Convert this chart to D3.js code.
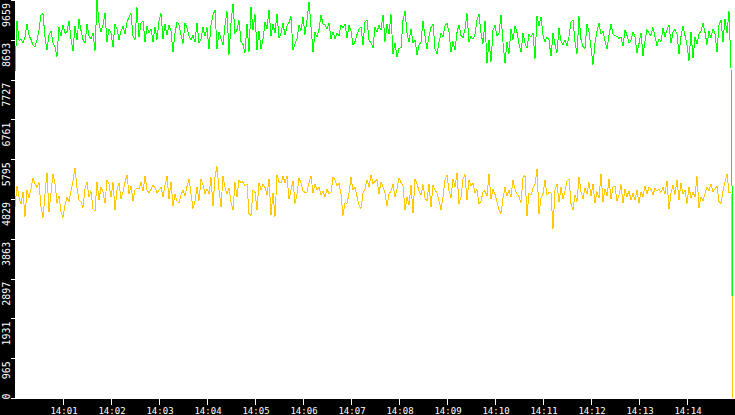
<!DOCTYPE html>
<html>
<head>
<meta charset="utf-8">
<script src="https://cdn.jsdelivr.net/npm/d3@7"></script>
<style>
    body { margin: 0; background: #fff; }
    svg { display: block; }
    text { font-family: "DejaVu Sans Mono", monospace; fill: #fff; }
</style>
</head>
<body>
<div id="chart"></div>
<script>
// one sample every 2.5 s, starting 14:00:00
var stepSec = 2.5;

var greenValues = [
    7920, 9150, 8680, 8700, 8620, 8760, 9080, 8800, 8700, 8560,
    8530, 8690, 8930, 9290, 9330, 8760, 8440, 8820, 8900, 8620,
    8520, 8290, 9010, 8780, 9060, 8850, 8890, 9150, 8720, 8420,
    9030, 8680, 9200, 8920, 8700, 8610, 9070, 8780, 8720, 8860,
    8430, 9659, 9100, 8880, 9060, 9350, 8630, 8960, 8870, 8520,
    9070, 8950, 8700, 8900, 9020, 8830, 9120, 9250, 9330, 8780,
    8700, 9480, 8760, 9100, 9150, 8650, 9020, 8860, 8960, 8640,
    9010, 8700, 9150, 9330, 8720, 9080, 8800, 9050, 8900, 8400,
    8850, 9130, 9060, 8820, 8600, 9090, 8990, 8780, 8700, 8800,

    8640, 9110, 8610, 8700, 9010, 8780, 8990, 8460, 9050, 9290,
    9420, 8470, 8880, 8720, 8560, 9050, 9380, 8330, 9100, 9570,
    8850, 8940, 9160, 8650, 8580, 8380, 9080, 8410, 9500, 8930,
    9310, 8450, 8900, 8480, 8700, 9120, 8960, 9420, 8780, 9080,
    8860, 9330, 8730, 8850, 9090, 8800, 9030, 9110, 9260, 8440,
    8600, 8720, 9050, 8920, 9250, 8820, 9160, 9620, 9010, 8400,
    8880, 8760, 8940, 9290, 9080, 9060, 8950, 9100, 8720, 8890,
    8720, 8850, 8790, 9050, 8980, 9070, 8740, 9040, 8900, 8560,
    8650, 8820, 8960, 9010, 8570, 9130, 9180, 8680, 8620, 8500,

    9000, 8880, 9050, 8930, 9300, 8650, 9080, 8840, 9310, 8350,
    8620, 8280, 8480, 8500, 9160, 9390, 8850, 8640, 8950, 8610,
    8690, 8330, 8570, 8640, 9150, 8780, 8470, 8790, 8990, 9080,
    8480, 8360, 8640, 8850, 8760, 9030, 9090, 8880, 8400, 8650,
    8450, 8870, 9060, 8800, 8740, 8960, 9330, 8640, 8780, 8710,
    8820, 9180, 9310, 8850, 8600, 9160, 8120, 8680, 8160, 8920,
    9050, 8780, 8860, 9300, 8630, 8120, 8650, 8360, 8960, 8700,
    9030, 8870, 8600, 8390, 8850, 8610, 8490, 8820, 8760, 8860,
    8240, 9280, 9030, 9250, 8810, 8640, 8770, 8680, 8290, 8850,

    8580, 8380, 8980, 8660, 8570, 8690, 8540, 8770, 9120, 9170,
    8640, 8350, 9260, 8700, 8530, 8480, 9080, 8880, 8500, 8090,
    8620, 8910, 9090, 8830, 8900, 8670, 8470, 8800, 9080, 8830,
    8790, 8780, 8730, 8760, 8540, 8940, 8800, 8610, 8680, 8890,
    8760, 8380, 8600, 8860, 8310, 8670, 8940, 8850, 8800, 8990,
    8770, 8550, 8720, 8650, 8980, 8760, 8940, 9060, 8610, 8880,
    8950, 8830, 8340, 8770, 9020, 8800, 8580, 8190, 8880, 8250,
    8750, 8600, 8830, 8910, 9090, 8870, 8580, 8900, 8740, 8960,
    8840, 8400, 9050, 9170, 8640, 9200, 8860, 9380, 8020, 2380
];

var yellowValues = [
    4640, 5150, 4880, 4700, 5000, 4400, 5050, 4860, 5080, 5330,
    5200, 5110, 5230, 4640, 4380, 4950, 5460, 4520, 4980, 5430,
    5190, 4740, 4900, 4520, 4380, 4690, 4880, 4760, 5020, 5260,
    5590, 5100, 4800, 4760, 4620, 5080, 5240, 4880, 5010, 4590,
    4540, 5240, 4800, 5120, 5000, 4730, 5280, 5190, 4870, 5230,
    4570, 5050, 5220, 4840, 5000, 5230, 5420, 4950, 5140, 4790,
    5040, 5100, 5070, 5230, 5020, 5380, 5050, 4980, 5060, 5170,
    5100, 4980, 5040, 5120, 4880, 5160, 5380, 4820, 5250, 4650,
    4950, 4780, 4740, 4920, 5050, 4900, 5130, 5320, 4960, 4600,

    4780, 5130, 4790, 5320, 5180, 4960, 5080, 4950, 5350, 4660,
    5370, 5620, 5060, 4640, 5380, 5120, 4950, 5100, 4760, 4560,
    5230, 4880, 5290, 5220, 5250, 5140, 5200, 4480, 4430, 5050,
    4990, 4560, 5220, 5060, 5190, 5110, 4930, 5320, 4440, 4980,
    4400, 5410, 5250, 5220, 5380, 5230, 5380, 4820, 5040, 5270,
    4720, 4950, 5340, 5220, 5020, 4990, 5000, 5220, 5390, 4980,
    5200, 5050, 5110, 4920, 5030, 4870, 5070, 4950, 5000, 5350,
    5300, 5150, 5210, 4950, 4430, 4740, 4720, 4960, 5360, 5050,
    5120, 4890, 4680, 4600, 4980, 5080, 5290, 5130, 5420, 5200,

    5250, 5300, 4960, 5250, 5120, 4970, 4650, 4960, 5020, 5190,
    4880, 5080, 5340, 5230, 5140, 4560, 4870, 4680, 5180, 4480,
    5310, 5200, 5020, 4920, 5180, 4850, 4780, 5190, 4640, 5160,
    5050, 4980, 4790, 4570, 4880, 5290, 5420, 5030, 4860, 5320,
    5130, 5460, 4720, 4870, 5320, 5420, 4800, 5280, 5150, 5210,
    4970, 5060, 4710, 4780, 5000, 5030, 4900, 5430, 4820, 5070,
    4940, 4760, 4570, 4480, 4850, 5110, 4900, 5040, 4880, 5290,
    5070, 4950, 4890, 4740, 5350, 5400, 4410, 4980, 4920, 5090,
    5180, 5560, 4470, 4850, 4960, 5300, 4920, 4990, 4980, 4110,

    5040, 5200, 4750, 5120, 4830, 5020, 5260, 5310, 4720, 4570,
    4920, 4770, 5370, 5010, 4840, 5100, 4950, 5230, 4900, 5200,
    4730, 5010, 4850, 5430, 4760, 5080, 4900, 5310, 4820, 5120,
    5140, 4780, 4930, 5180, 4740, 5060, 4890, 5030, 4800, 4970,
    4800, 5040, 4730, 5000, 4880, 5150, 4950, 5120, 5060, 4930,
    5090, 5020, 5070, 4990, 5110, 4960, 5270, 4580, 4980, 5160,
    4940, 5300, 4800, 5220, 4950, 5050, 4720, 5120, 4860, 5000,
    4880, 5380, 4620, 4880, 4780, 4960, 5120, 5030, 5190, 5000,
    5080, 5140, 4770, 4720, 5030, 5250, 5430, 4990, 4980, 0
];

var yTicks = [0, 965, 1931, 2897, 3863, 4829, 5795, 6761, 7727, 8693, 9659];
var xTickLabels = ["14:01", "14:02", "14:03", "14:04", "14:05", "14:06", "14:07",
    "14:08", "14:09", "14:10", "14:11", "14:12", "14:13", "14:14"];

function chart() {
    this.w = 735;
    this.h = 415;
    this.left = 15;
    this.bottom = 398;
    this.colors = ['#00ff00', '#ffc800'];
}

chart.prototype.draw = function (divId) {
    var w = this.w, h = this.h, left = this.left, bottom = this.bottom;
    var t0 = new Date(2000, 0, 1, 14, 0, 0);
    var t1 = new Date(2000, 0, 1, 14, 15, 0);

    var x = d3.scaleTime().domain([t0, t1]).range([left, w]);
    var y = d3.scaleLinear().domain([0, 9659]).range([bottom, 0]);

    var svg = d3.select("#" + divId).append("svg").attr("width", w).attr("height", h);
    svg.append("rect").attr("width", w).attr("height", h).attr("fill", "#fff");

    var toPoints = function (vals) {
        return vals.map(function (v, i) {
            return { t: new Date(t0.getTime() + i * stepSec * 1000), v: v };
        });
    };

    var line = d3.line()
        .x(function (d) { return x(d.t); })
        .y(function (d) { return y(d.v); });

    var colors = this.colors;
    [greenValues, yellowValues].forEach(function (vals, k) {
        svg.append("path")
            .datum(toPoints(vals))
            .attr("d", line)
            .attr("fill", "none")
            .attr("stroke", colors[k])
            .attr("stroke-width", 1)
            .attr("shape-rendering", "crispEdges");
    });

    // black frame bands
    svg.append("rect").attr("x", 0).attr("y", 0).attr("width", left).attr("height", h).attr("fill", "#000");
    svg.append("rect").attr("x", 0).attr("y", bottom + 1).attr("width", w).attr("height", h - bottom - 1).attr("fill", "#000");

    // y axis
    var yt = svg.append("g").selectAll("g").data(yTicks).enter().append("g");
    yt.append("line")
        .attr("x1", 11).attr("x2", left)
        .attr("y1", function (d) { return Math.round(y(d)) + 0.5; })
        .attr("y2", function (d) { return Math.round(y(d)) + 0.5; })
        .attr("stroke", "#fff").attr("shape-rendering", "crispEdges");
    yt.append("text")
        .attr("transform", function (d) {
            var yy = d == 0 ? y(d) + 1.5 : y(d) + 3;
            return "translate(10," + yy + ") rotate(-90)";
        })
        .attr("text-anchor", function (d) { return d == 0 ? "start" : "end"; })
        .style("font-size", "10px")
        .text(function (d) { return d; });

    // x axis
    var minutes = xTickLabels.map(function (s) {
        var p = s.split(":");
        return new Date(2000, 0, 1, +p[0], +p[1], 0);
    });
    var xt = svg.append("g").selectAll("g").data(minutes).enter().append("g");
    xt.append("line")
        .attr("x1", function (d) { return Math.round(x(d)) + 0.5; })
        .attr("x2", function (d) { return Math.round(x(d)) + 0.5; })
        .attr("y1", bottom + 1).attr("y2", bottom + 7)
        .attr("stroke", "#fff").attr("shape-rendering", "crispEdges");
    xt.append("text")
        .attr("x", function (d) { return x(d) + 1; })
        .attr("y", 413.5)
        .attr("text-anchor", "middle")
        .style("font-size", "9px")
        .text(function (d, i) { return xTickLabels[i]; });
};

var c = new chart();
c.draw("chart");
</script>
</body>
</html>
